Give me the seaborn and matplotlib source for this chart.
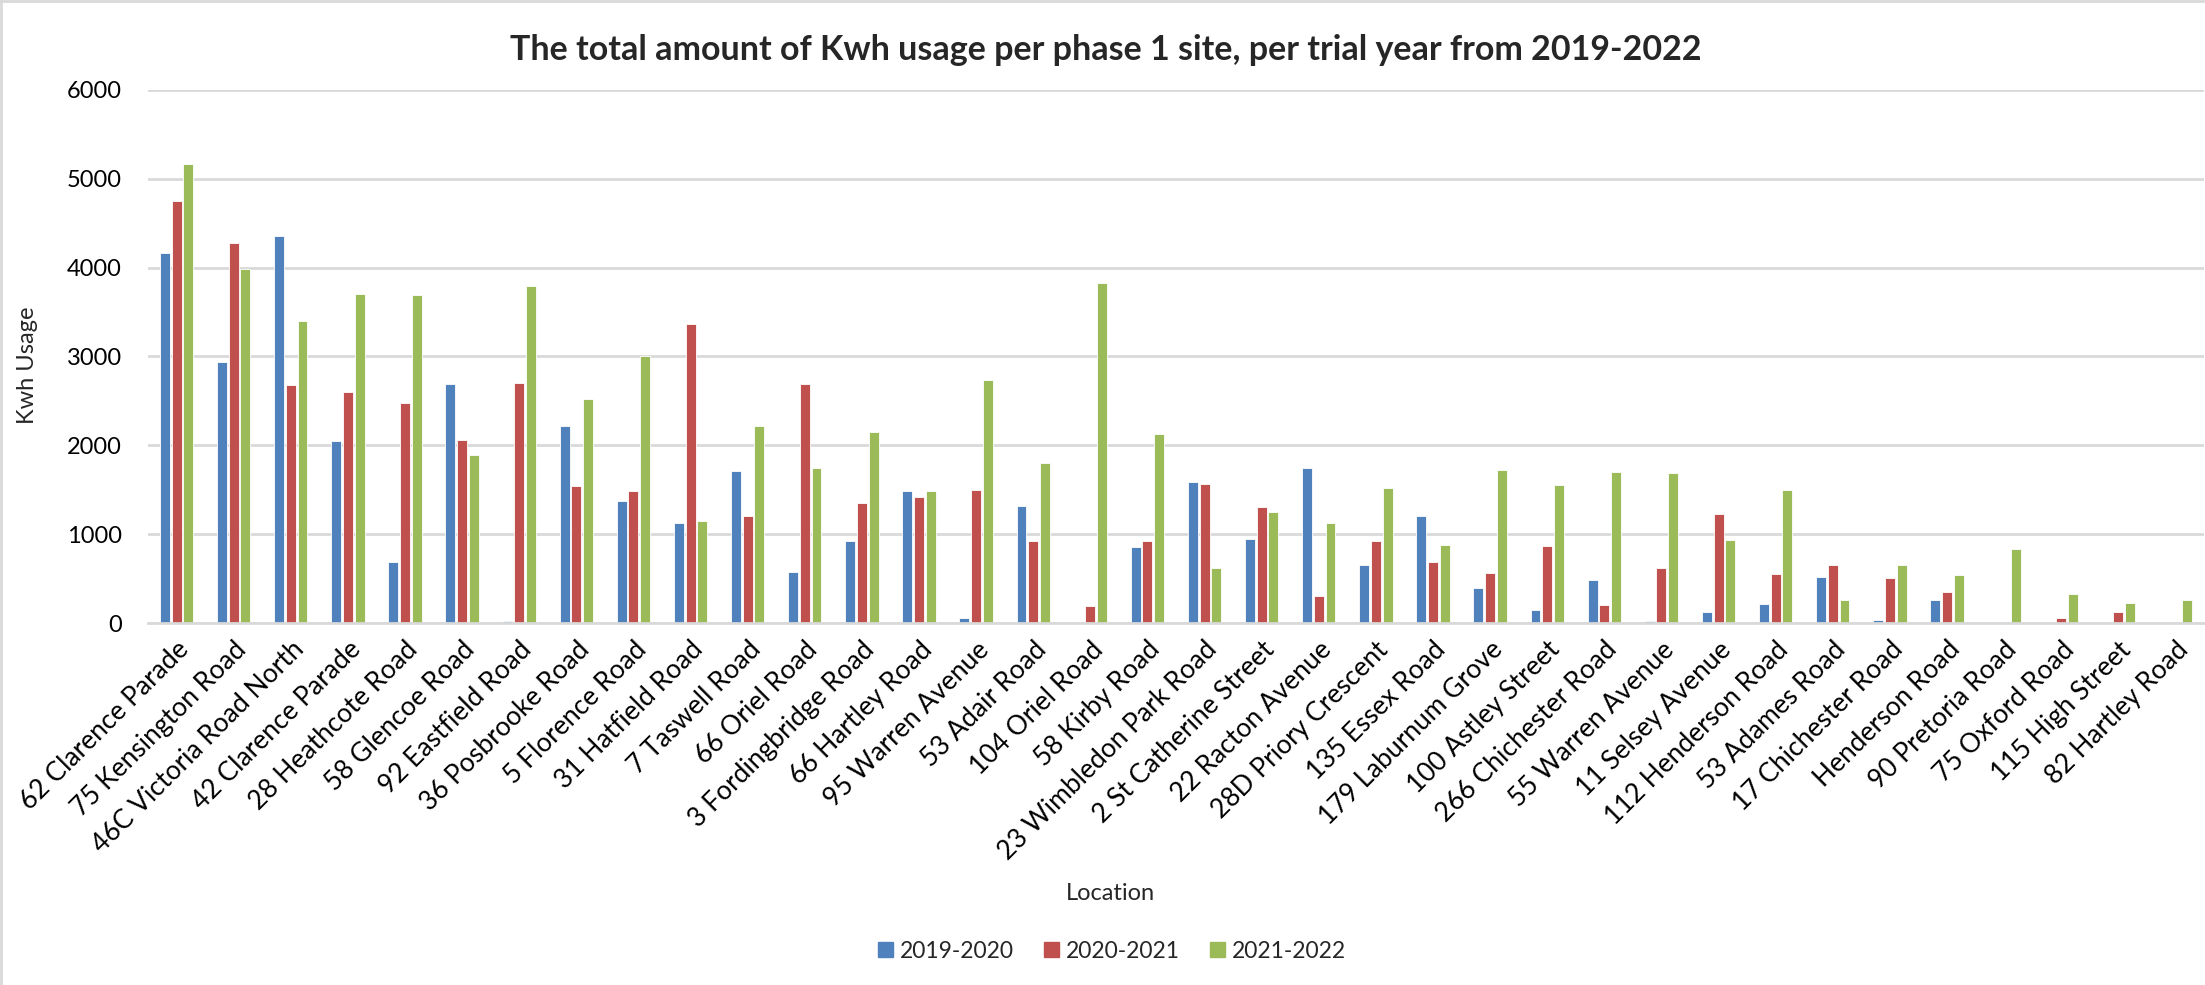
import matplotlib
matplotlib.use("Agg")
import matplotlib.pyplot as plt
import seaborn as sns
import pandas as pd
from matplotlib.patches import Rectangle
from matplotlib.lines import Line2D

locations = [
    "62 Clarence Parade", "75 Kensington Road", "46C Victoria Road North", "42 Clarence Parade",
    "28 Heathcote Road", "58 Glencoe Road", "92 Eastfield Road", "36 Posbrooke Road",
    "5 Florence Road", "31 Hatfield Road", "7 Taswell Road", "66 Oriel Road",
    "3 Fordingbridge Road", "66 Hartley Road", "95 Warren Avenue", "53 Adair Road",
    "104 Oriel Road", "58 Kirby Road", "23 Wimbledon Park Road", "2 St Catherine Street",
    "22 Racton Avenue", "28D Priory Crescent", "135 Essex Road", "179 Laburnum Grove",
    "100 Astley Street", "266 Chichester Road", "55 Warren Avenue", "11 Selsey Avenue",
    "112 Henderson Road", "53 Adames Road", "17 Chichester Road", "Henderson Road",
    "90 Pretoria Road", "75 Oxford Road", "115 High Street", "82 Hartley Road",
]
kwh_2019_2020 = [4167, 2943, 4359, 2052, 687, 2689, 21, 2219, 1374, 1128, 1711, 575,
                 920, 1490, 54, 1316, 0, 853, 1582, 949, 1740, 654, 1203, 395,
                 146, 483, 21, 121, 212, 520, 33, 258, 10, 10, 15, 8]
kwh_2020_2021 = [4746, 4280, 2677, 2606, 2477, 2061, 2702, 1540, 1482, 3364, 1199, 2689,
                 1353, 1420, 1495, 928, 192, 920, 1565, 1311, 300, 928, 683, 562,
                 862, 204, 624, 1224, 554, 654, 504, 350, 0, 58, 125, 0]
kwh_2021_2022 = [5167, 3980, 3401, 3701, 3697, 1894, 3793, 2527, 3010, 1149, 2219, 1740,
                 2152, 1490, 2731, 1803, 3830, 2127, 624, 1249, 1128, 1524, 878, 1719,
                 1553, 1699, 1686, 937, 1499, 258, 658, 545, 833, 321, 221, 258]
years = ["2019-2020", "2020-2021", "2021-2022"]
colors = ["#4F81BD", "#C0504D", "#9BBB59"]

df = pd.DataFrame({
    "Location": locations * 3,
    "Year": [years[0]] * len(locations) + [years[1]] * len(locations) + [years[2]] * len(locations),
    "Kwh": kwh_2019_2020 + kwh_2020_2021 + kwh_2021_2022,
})

sns.set_theme(style="white")
plt.rcParams['font.family'] = ['Lato', 'DejaVu Sans']

W, H = 2205, 985
fig = plt.figure(figsize=(W / 100, H / 100), dpi=100)
L, R, T, B = 148, 2204, 90, 623
ax = fig.add_axes([L / W, 1 - B / H, (R - L) / W, (B - T) / H])

sns.barplot(data=df, x="Location", y="Kwh", hue="Year", palette=colors, ax=ax,
            width=0.615, gap=0.15, edgecolor="white", linewidth=0.6, legend=False,
            errorbar=None, saturation=1)

ax.set_ylim(0, 6000)
ax.set_yticks(range(0, 6001, 1000))
ax.set_xlim(-0.5, len(locations) - 0.5)
ax.yaxis.grid(True, color="#D9D9D9", linewidth=2)
ax.set_axisbelow(True)
for s in ["top", "right", "left"]:
    ax.spines[s].set_visible(False)
ax.spines["bottom"].set_color("#D9D9D9")
ax.spines["bottom"].set_linewidth(2)
ax.tick_params(axis="y", labelsize=17, length=0, pad=19, labelcolor="black")
ax.tick_params(axis="x", labelsize=19, length=0, pad=10, labelcolor="black")
plt.setp(ax.get_xticklabels(), rotation=45, ha="right", rotation_mode="anchor")
for lbl in ax.get_xticklabels():
    lbl.set_x(lbl.get_position()[0])

ax.set_ylabel("")
ax.set_xlabel("")
fig.text(27 / W, 1 - 365 / H, "Kwh Usage", ha="center", va="center", rotation=90, fontsize=17)
fig.text(1110 / W, 1 - 894 / H, "Location", ha="center", va="center", fontsize=17)
fig.text(1106 / W, 1 - 50 / H, "The total amount of Kwh usage per phase 1 site, per trial year from 2019-2022",
         ha="center", va="center", fontsize=24.5, fontweight="bold")

handles = [Rectangle((0, 0), 1, 1, color=c) for c in colors]
fig.legend(handles, years, loc="center", bbox_to_anchor=(1112 / W, 1 - 951 / H), ncol=3,
           frameon=False, fontsize=16.5, handlelength=0.65, handleheight=0.65, columnspacing=1.3,
           handletextpad=0.3)

fig.add_artist(Line2D([0.5 / W, 0.5 / W], [0, 1], transform=fig.transFigure, color="#D9D9D9", linewidth=2))
fig.add_artist(Line2D([0, 1], [1 - 0.5 / H, 1 - 0.5 / H], transform=fig.transFigure, color="#D9D9D9", linewidth=2))

fig.savefig("out.png", dpi=100, facecolor="white")
